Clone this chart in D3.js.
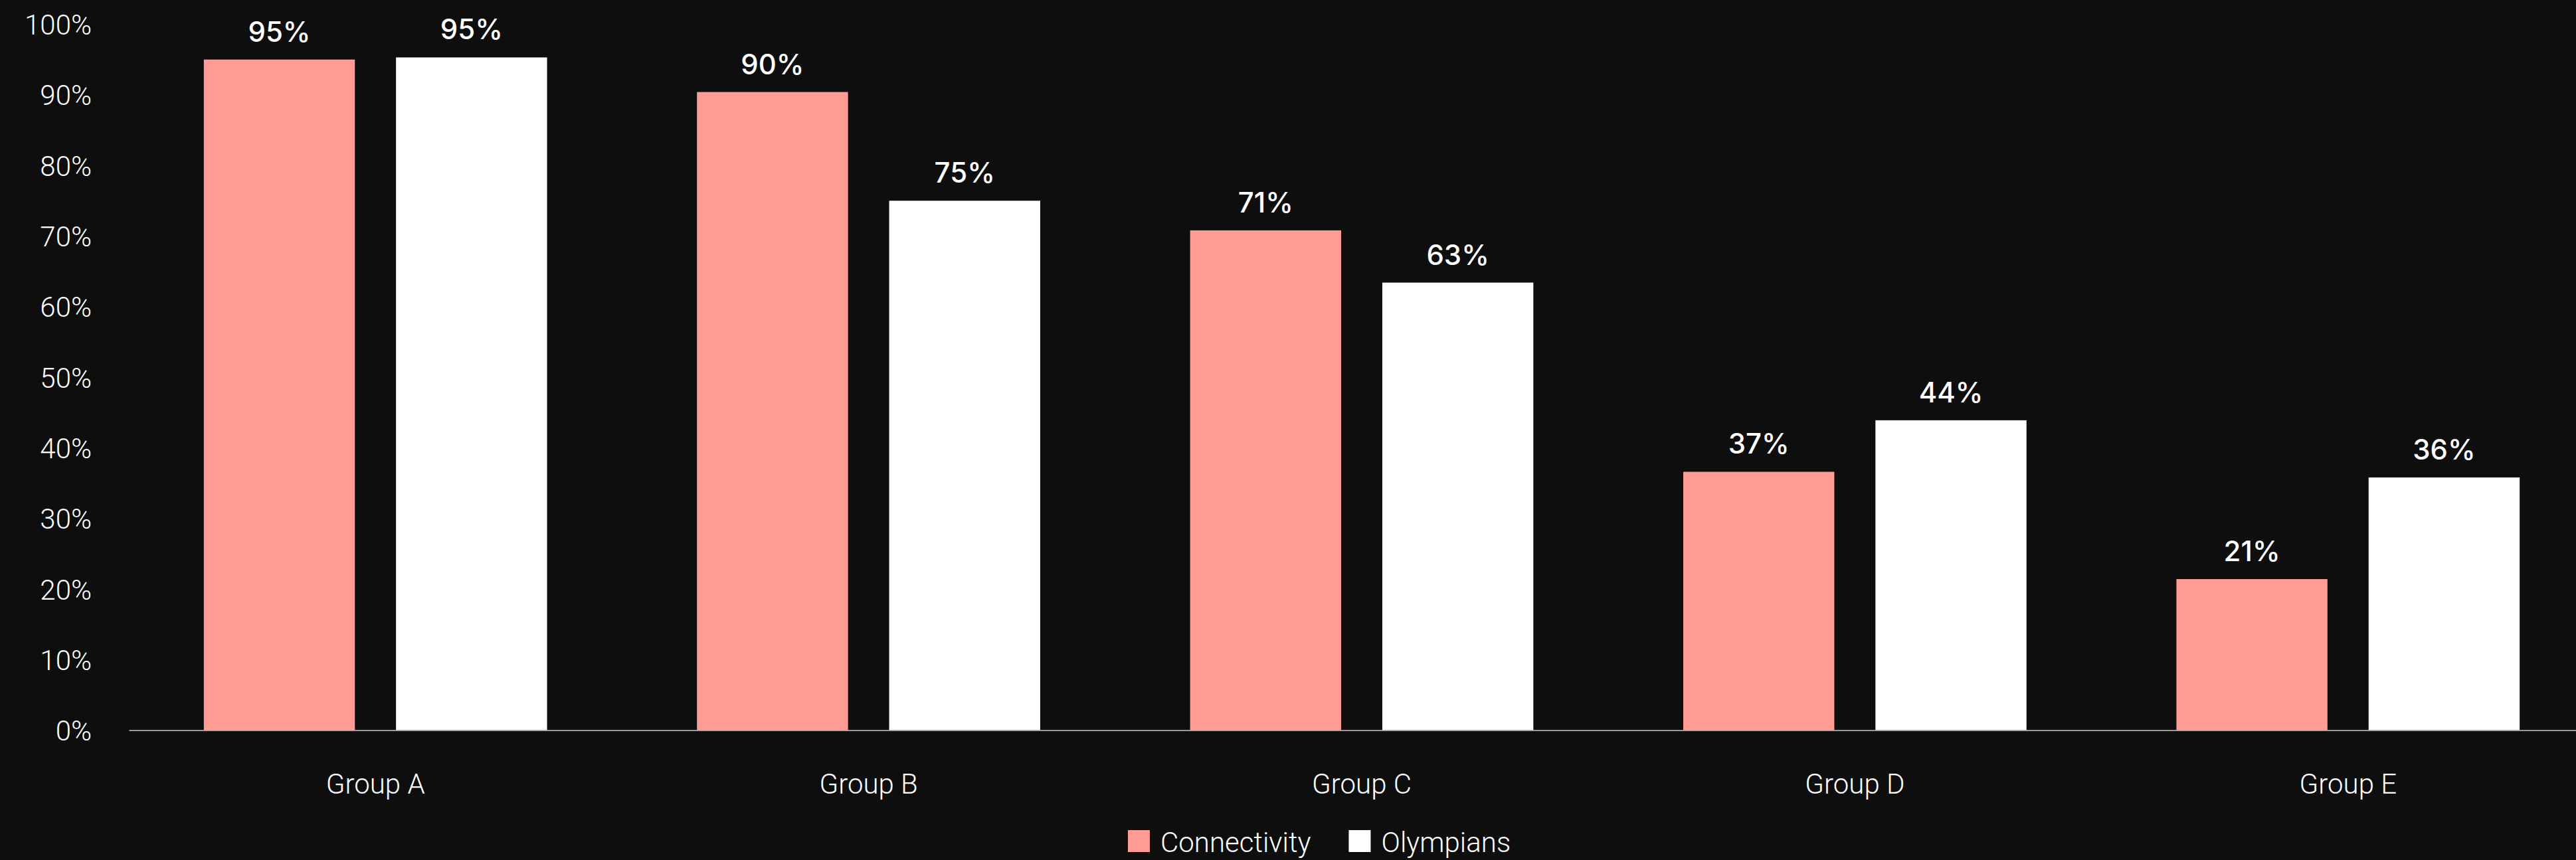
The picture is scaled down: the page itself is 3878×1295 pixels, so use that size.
<!DOCTYPE html>
<html>
<head>
<meta charset="utf-8">
<script src="https://cdn.jsdelivr.net/npm/d3@7"></script>
<style>
  html, body { margin: 0; padding: 0; background: #0e0e0e; overflow: hidden; }
  svg { display: block; }
</style>
</head>
<body>
<script>
const categories = ["Group A", "Group B", "Group C", "Group D", "Group E"];
const seriesNames = ["Connectivity", "Olympians"];
const connectivity = [0.950, 0.904, 0.708, 0.366, 0.214];
const olympians = [0.953, 0.750, 0.634, 0.439, 0.358];
const yTicks = [0, 0.1, 0.2, 0.3, 0.4, 0.5, 0.6, 0.7, 0.8, 0.9, 1.0];
const seriesColors = ["#ff9c94", "#ffffff"];

const W = 3878, H = 1295;
const bg = "#0e0e0e";
const lightFont = "Roboto, 'Liberation Sans', sans-serif";
const labelFont = "Inter, 'DejaVu Sans', sans-serif";

const data = categories.map((c, i) => ({
  category: c,
  values: [
    { key: seriesNames[0], value: connectivity[i] },
    { key: seriesNames[1], value: olympians[i] }
  ]
}));

const svg = d3.select("body").append("svg")
  .attr("width", W).attr("height", H)
  .style("background", bg);

const x0 = d3.scaleBand().domain(categories).range([194, 3906]).padding(0);
const x1 = d3.scaleBand().domain(seriesNames).range([0, x0.bandwidth()])
  .paddingInner(0.214).paddingOuter(0.39);
const y = d3.scaleLinear().domain([0, 1]).range([1099.5, 36.5]);
const color = d3.scaleOrdinal().domain(seriesNames).range(seriesColors);

// Y axis
const yAxis = svg.append("g")
  .attr("transform", "translate(195,0)")
  .call(d3.axisLeft(y).tickValues(yTicks).tickFormat(d3.format(".0%")).tickSize(0).tickPadding(57));
yAxis.select(".domain").remove();
yAxis.selectAll("text")
  .attr("fill", "#ffffff")
  .attr("font-family", lightFont)
  .attr("font-weight", 300)
  .attr("font-size", 42)
  .attr("dy", "0.36em");

// Bars
const groups = svg.append("g").selectAll("g")
  .data(data).join("g")
  .attr("transform", d => `translate(${x0(d.category)},0)`);

groups.selectAll("rect")
  .data(d => d.values).join("rect")
  .attr("x", d => x1(d.key))
  .attr("y", d => y(d.value))
  .attr("width", x1.bandwidth())
  .attr("height", d => y(0) - y(d.value))
  .attr("fill", d => color(d.key));

groups.selectAll("text.val")
  .data(d => d.values).join("text")
  .attr("class", "val")
  .attr("x", d => x1(d.key) + x1.bandwidth() / 2)
  .attr("y", d => y(d.value) - 27)
  .attr("text-anchor", "middle")
  .attr("fill", "#ffffff")
  .attr("font-family", labelFont)
  .attr("font-weight", 500)
  .attr("font-size", 42)
  .text(d => d3.format(".0%")(d.value));

// X axis (baseline + group labels)
const xAxis = svg.append("g")
  .attr("transform", `translate(0,${y(0)})`)
  .call(d3.axisBottom(x0).tickSize(0).tickSizeOuter(0));
xAxis.select(".domain").attr("stroke", "#c8c8c8").attr("stroke-width", 1.5);
xAxis.selectAll("text")
  .attr("dy", null)
  .attr("y", 95)
  .attr("fill", "#ffffff")
  .attr("font-family", lightFont)
  .attr("font-weight", 300)
  .attr("font-size", 42);

// Legend
const legend = svg.append("g").attr("transform", "translate(1698,-4)");
let lx = 0;
seriesNames.forEach((name, i) => {
  const item = legend.append("g").attr("transform", `translate(${lx},0)`);
  item.append("rect")
    .attr("x", 0).attr("y", 1254)
    .attr("width", 33).attr("height", 33)
    .attr("fill", color(name));
  const t = item.append("text")
    .attr("x", 49).attr("y", 1287)
    .attr("fill", "#ffffff")
    .attr("font-family", lightFont)
    .attr("font-weight", 300)
    .attr("font-size", 42)
    .text(name);
  lx += 49 + t.node().getComputedTextLength() + 57;
});
</script>
</body>
</html>
